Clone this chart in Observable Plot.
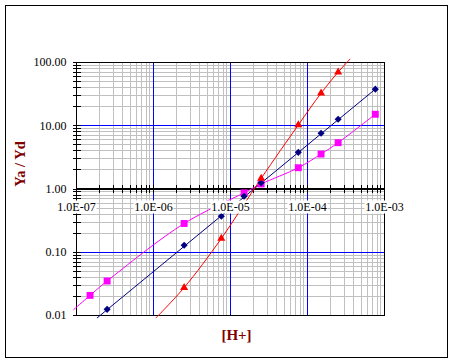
<!DOCTYPE html>
<html>
<head>
<meta charset="utf-8">
<script src="https://cdn.jsdelivr.net/npm/d3@7"></script>
<script src="https://cdn.jsdelivr.net/npm/@observablehq/plot@0.6"></script>
<style>
  html, body { margin: 0; padding: 0; background: #fff; }
  #wrap { position: relative; width: 454px; height: 363px; }
  #border { position: absolute; left: 5px; top: 5px; width: 443px; height: 353px; box-sizing: border-box; border: 1px solid #000; pointer-events: none; }
  #chart { position: absolute; left: 0; top: 0; }
  #chart svg, #chart svg text { font-family: "Liberation Serif", serif !important; }
</style>
</head>
<body>
<div id="wrap"><div id="chart"></div><div id="border"></div></div>
<script>
// ---- axis ticks / labels ----
const xMajor = [1e-7, 1e-6, 1e-5, 1e-4, 1e-3];
const xLabels = ["1.0E-07", "1.0E-06", "1.0E-05", "1.0E-04", "1.0E-03"];
const yMajor = [0.01, 0.1, 1, 10, 100];
const yLabels = ["0.01", "0.10", "1.00", "10.00", "100.00"];
const minorMult = [2, 3, 4, 5, 6, 7, 8, 9];
const xBlue = [1e-6, 1e-5, 1e-4];
const yBlue = [0.1, 10];

// ---- series: markers ----
const diamondX = [2.5e-7, 2.5e-6, 7.6e-6, 1.5e-5, 2.5e-5, 7.6e-5, 1.5e-4, 2.5e-4, 7.6e-4];
const diamondY = [0.0125, 0.129, 0.37, 0.77, 1.25, 3.8, 7.6, 12.7, 37.9];
const squareX = [1.5e-7, 2.5e-7, 2.5e-6, 1.5e-5, 2.5e-5, 7.6e-5, 1.5e-4, 2.5e-4, 7.6e-4];
const squareY = [0.0208, 0.0351, 0.285, 0.87, 1.2, 2.17, 3.57, 5.4, 15.2];
const triangleX = [2.5e-6, 7.6e-6, 2.5e-5, 7.6e-5, 1.5e-4, 2.5e-4];
const triangleY = [0.0276, 0.165, 1.47, 10.3, 32.7, 70.4];

// ---- series: fitted curves ----
const redLineX = [1.08e-6, 2.5e-6, 7.6e-6, 2.5e-5, 7.6e-5, 1.5e-4, 2.5e-4, 3.56e-4];
const redLineY = [0.0092, 0.0276, 0.165, 1.47, 10.3, 32.7, 70.4, 113];
const blueLineX = [1.86e-7, 7.6e-4];
const blueLineY = [0.0092, 37.9];
const pinkLineX = [9.2e-8, 1.5e-7, 2.5e-7, 2.5e-6, 1.5e-5, 2.5e-5, 7.6e-5, 1.5e-4, 2.5e-4, 7.6e-4];
const pinkLineY = [0.0124, 0.0208, 0.0351, 0.285, 0.87, 1.2, 2.17, 3.57, 5.4, 15.2];

const zip = (xs, ys) => xs.map((x, i) => ({x, y: ys[i]}));
const xMinor = xMajor.slice(0, -1).flatMap(m => minorMult.map(k => k * m));
const yMinor = yMajor.slice(0, -1).flatMap(m => minorMult.map(k => k * m));
const xAll = [...xMajor, ...xMinor];
const yAll = [...yMajor, ...yMinor];
const xTicks = xMajor.map((v, i) => ({v, label: xLabels[i]}));
const yTicks = yMajor.map((v, i) => ({v, label: yLabels[i]}));

const vTick = {draw(ctx) { ctx.moveTo(0, -4); ctx.lineTo(0, 4); }};
const hTick = {draw(ctx) { ctx.moveTo(-4, 0); ctx.lineTo(4, 0); }};
const labelBox = {draw(ctx) { ctx.rect(-20, -6.5, 40, 13); }};

const xMin = xMajor[0];
const FONT = "Liberation Serif";

const chart = Plot.plot({
  width: 454,
  height: 363,
  marginLeft: 76,
  marginRight: 70,
  marginTop: 62,
  marginBottom: 48,
  style: {fontFamily: FONT, fontSize: "12px", background: "transparent"},
  x: {type: "log", domain: [1e-7, 1e-3], axis: null},
  y: {type: "log", domain: [0.01, 100], axis: null},
  marks: [
    Plot.ruleX(xMinor, {stroke: "#c0c0c0", strokeWidth: 1, shapeRendering: "crispEdges"}),
    Plot.ruleY(yMinor, {stroke: "#c0c0c0", strokeWidth: 1, shapeRendering: "crispEdges"}),
    Plot.ruleX(xBlue, {stroke: "#0000ff", strokeWidth: 1, shapeRendering: "crispEdges"}),
    Plot.ruleY(yBlue, {stroke: "#0000ff", strokeWidth: 1, shapeRendering: "crispEdges"}),
    Plot.ruleY([1], {stroke: "#000", strokeWidth: 1.2, shapeRendering: "crispEdges"}),
    Plot.frame({stroke: "#000", strokeWidth: 1, shapeRendering: "crispEdges"}),
    // ticks
    Plot.dot(xAll, {x: d => d, y: () => 1, symbol: vTick, stroke: "#000", fill: "none", strokeWidth: 1, shapeRendering: "crispEdges"}),
    Plot.dot(yAll, {x: () => xMin, y: d => d, symbol: hTick, stroke: "#000", fill: "none", strokeWidth: 1, shapeRendering: "crispEdges"}),
    // curves
    Plot.line(zip(pinkLineX, pinkLineY), {x: "x", y: "y", stroke: "#ff00ff", strokeWidth: 1, curve: "catmull-rom"}),
    Plot.line(zip(blueLineX, blueLineY), {x: "x", y: "y", stroke: "#000080", strokeWidth: 1}),
    Plot.line(zip(redLineX, redLineY), {x: "x", y: "y", stroke: "#ff0000", strokeWidth: 1, curve: "catmull-rom"}),
    // markers
    Plot.dot(zip(squareX, squareY), {x: "x", y: "y", symbol: "square", r: 3.9, fill: "#ff00ff", stroke: "none"}),
    Plot.dot(zip(diamondX, diamondY), {x: "x", y: "y", symbol: "diamond2", r: 3.2, fill: "#000080", stroke: "none"}),
    Plot.dot(zip(triangleX, triangleY), {x: "x", y: "y", symbol: "triangle", r: 3.0, fill: "#ff0000", stroke: "none"}),
    // x tick labels with white boxes
    Plot.dot(xTicks, {x: "v", y: () => 1, dy: 18, symbol: labelBox, fill: "#fff", stroke: "none"}),
    Plot.text(xTicks, {x: "v", y: () => 1, dy: 18, text: "label", fill: "#000", fontSize: 12, fontFamily: FONT}),
    // y tick labels
    Plot.text(yTicks, {x: () => xMin, y: "v", text: "label", textAnchor: "end", dx: -10, fill: "#000", fontSize: 12, fontFamily: FONT}),
    // axis titles
    Plot.text(["Ya / Yd"], {frameAnchor: "left", textAnchor: "middle", lineAnchor: "middle", dx: -56, dy: -25, rotate: -90, fill: "#800000", fontWeight: "bold", fontSize: 14.5, fontFamily: FONT}),
    Plot.text(["[H+]"], {frameAnchor: "bottom", textAnchor: "middle", lineAnchor: "middle", dx: 6, dy: 20, fill: "#800000", fontWeight: "bold", fontSize: 15, fontFamily: FONT})
  ]
});
document.getElementById("chart").appendChild(chart);
</script>
</body>
</html>
